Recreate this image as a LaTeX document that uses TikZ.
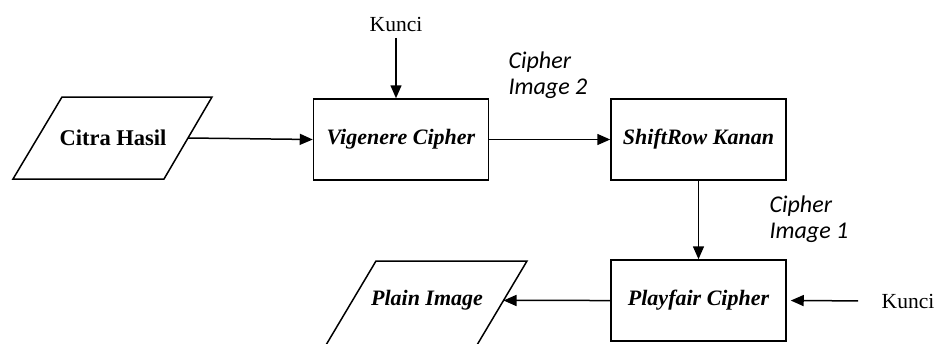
\documentclass[tikz,border=0pt]{standalone}
\usepackage{fontspec}
\setmainfont{Liberation Serif}
\newfontfamily\capfont{Carlito}
\usetikzlibrary{arrows.meta,calc}
\begin{document}
\begin{tikzpicture}[x=1pt,y=-1pt,
  every node/.style={font=\fontsize{21.5}{25}\selectfont},
  procbox/.style={draw,line width=1.5pt,minimum width=175pt,minimum height=81pt,font=\fontsize{22}{25}\selectfont\bfseries\itshape},
  ioline/.style={draw,line width=1.5pt,line join=miter},
  lbl/.style={font=\fontsize{24}{26}\selectfont\capfont\itshape,align=left,inner sep=0pt},
  flow/.style={line width=1.5pt,-{Triangle[length=13pt,width=11pt]}}]
\useasboundingbox[fill=white] (0,0) rectangle (943,343);

% Citra Hasil parallelogram
\coordinate (ca) at (13,179);
\coordinate (cb) at (62,97);
\coordinate (cc) at (212,97);
\coordinate (cd) at (164,179);
\draw[ioline] (ca) -- (cb) -- (cc) -- (cd) -- cycle;
\coordinate (citraE) at ($(cc)!0.5!(cd)$);
\node[font=\fontsize{22.5}{25}\selectfont\bfseries] (citra) at (113,138) {Citra Hasil};

% Plain Image parallelogram (bottom edge falls outside the picture)
\coordinate (pa) at (326,345);
\coordinate (pb) at (376,261);
\coordinate (pc) at (527,261);
\coordinate (pd) at (477,345);
\draw[ioline] (pa) -- (pb) -- (pc) -- (pd) -- cycle;
\coordinate (plainE) at ($(pc)!0.47!(pd)$);
\node[font=\fontsize{22}{25}\selectfont\bfseries\itshape] (plain) at (427,300.5) {Plain Image};

\node[procbox] (vig) at (401,139.5) {Vigenere Cipher};
\node[procbox] (shift) at (698.5,139.5) {ShiftRow Kanan};
\node[procbox] (play) at (698.5,300.5) {Playfair Cipher};

\node (k1) at (396,24) {Kunci};
\node (k2) at (908,301) {Kunci};
\node[lbl] (c2) at (548,75) {Cipher\\Image 2};
\node[lbl] (c1) at (809,219) {Cipher\\Image 1};

\draw[flow] (citraE) -- (vig.west);
\draw[flow] (k1.south) ++(0,3) -- (k1 |- vig.north);
\draw[flow] (vig.east) -- (shift.west);
\draw[flow] (shift.south) -- (play.north);
\draw[flow,shorten <=20pt,shorten >=4pt] (k2.west) -- (play.east);
\draw[flow] (play.west) -- (plainE);
\end{tikzpicture}
\end{document}
